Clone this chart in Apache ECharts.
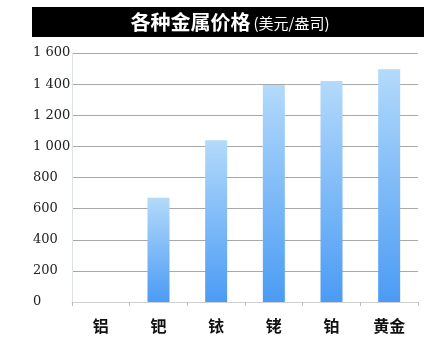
<!DOCTYPE html>
<html><head><meta charset="utf-8">
<script src="https://cdn.jsdelivr.net/npm/echarts@6/dist/echarts.min.js"></script>
<style>html,body{margin:0;padding:0;background:#fff}#c{width:441px;height:347px}</style>
</head><body><div id="c"></div>
<script>
const categories = ['铝', '钯', '铱', '铑', '铂', '黄金'];
const prices = [0, 670, 1040, 1395, 1420, 1495];
const yTicks = ['0', '200', '400', '600', '800', '1 000', '1 200', '1 400', '1 600'];

const chart = echarts.init(document.getElementById('c'));
chart.setOption({
  animation: false,
  backgroundColor: '#fff',
  graphic: [
    { type: 'rect', shape: { x: 32, y: 7, width: 392, height: 30 }, style: { fill: '#000' } },
    { type: 'text', x: 230, y: 22, style: {
        text: '{a|各种金属价格}{b|(美元/盎司)}',
        align: 'center', verticalAlign: 'middle',
        rich: {
          a: { fill: '#fff', fontSize: 20, fontWeight: 'bold', fontFamily: 'Noto Sans CJK SC' },
          b: { fill: '#fff', fontSize: 15, fontFamily: 'Noto Sans CJK SC', padding: [3, 0, 0, 3] }
        }
    } }
  ],
  grid: { left: 72, right: 23, top: 53, bottom: 45 },
  xAxis: {
    type: 'category', data: categories,
    axisLine: { lineStyle: { color: '#d0d0d0' } },
    axisTick: { show: true, length: 4, lineStyle: { color: '#bbb' } },
    axisLabel: { color: '#111', fontSize: 16, fontWeight: 'bold', margin: 16, fontFamily: 'Noto Sans CJK SC' }
  },
  yAxis: {
    type: 'value', min: 0, max: 1600, interval: 200,
    axisLine: { show: true, lineStyle: { color: '#dde3e3' } },
    axisTick: { show: false },
    splitLine: { lineStyle: { color: '#a8a8a8', width: 1 } },
    axisLabel: { color: '#222', fontSize: 13, margin: 39, align: 'left', fontFamily: 'DejaVu Serif',
      formatter: function (v) { return yTicks[Math.round(v / 200)]; } }
  },
  series: [{
    type: 'bar', data: prices, barWidth: 22,
    itemStyle: {
      color: new echarts.graphic.LinearGradient(0, 0, 0, 1, [
        { offset: 0, color: '#b3dafb' },
        { offset: 1, color: '#4b9bf4' }
      ])
    }
  }]
});
</script></body></html>
